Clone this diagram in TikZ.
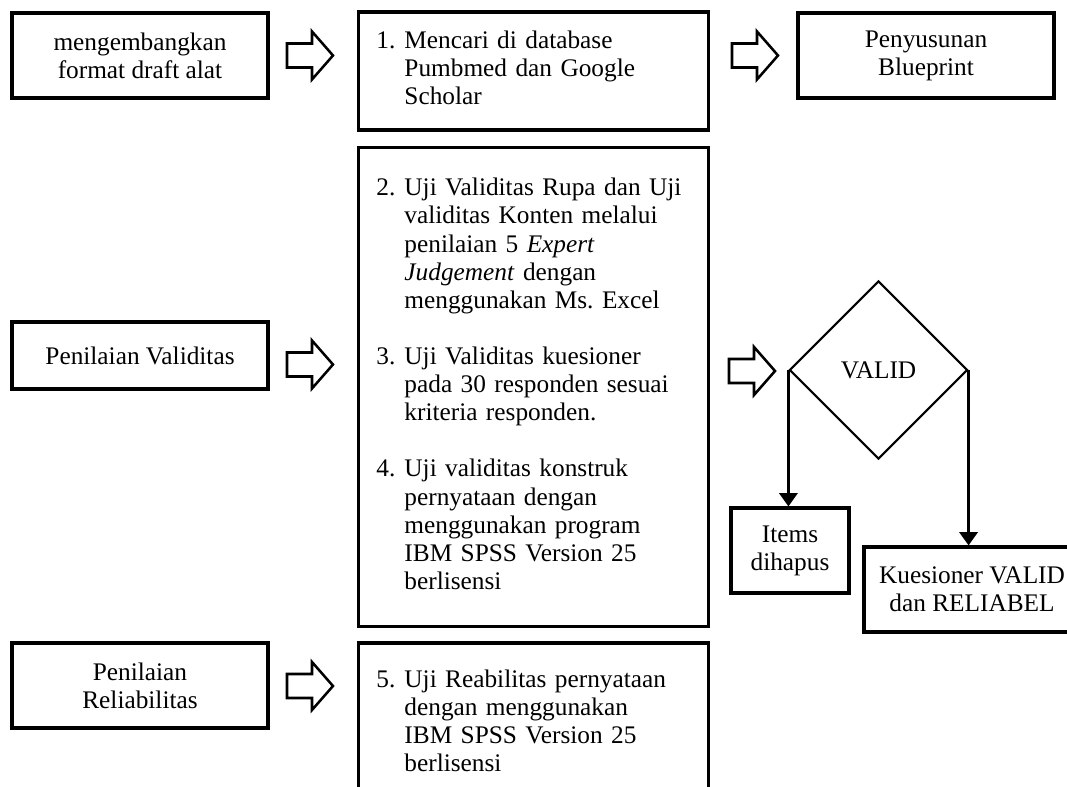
\documentclass[tikz,border=0pt]{standalone}
\usepackage{fontspec}
\setmainfont{Liberation Serif}
\usetikzlibrary{shapes.geometric,arrows.meta}

% hollow block arrow, given its left end and middle height
\newcommand{\hollowarrow}[2]{%
  \draw[hollow] (#1,#2) ++(0,-12) -- ++(25,0) -- ++(0,-12) -- ++(21,24)
    -- ++(-21,24) -- ++(0,-12) -- ++(-25,0) -- cycle;}

\begin{document}
\begin{tikzpicture}[x=0.025cm, y=-0.025cm,
  font=\fontsize{18}{20}\selectfont,
  box/.style={draw, line width=2.2pt, align=center, inner sep=0pt,
    minimum width=6.4cm, minimum height=2.125cm},
  listbox/.style={draw, line width=2.2pt, align=left, text width=7.85cm,
    inner xsep=0.45cm, inner ysep=0pt},
  hollow/.style={draw, line width=1.8pt, line join=miter},
  decision/.style={draw, diamond, aspect=1, line width=1.5pt, inner sep=0pt,
    minimum width=4.45cm, minimum height=4.45cm},
  flow/.style={line width=2pt, -{Triangle[length=0.33cm, width=0.45cm]}}]
\useasboundingbox (0,0) rectangle (1067,787);

% left column
\node[box] (draft) at (140,55.5) {mengembangkan\\format draft alat};
\node[box, minimum height=1.675cm] (validitas) at (140,355.5) {Penilaian Validitas};
\node[box] (reliabilitas) at (140,685.5) {Penilaian\\Reliabilitas};

% middle column
\node[listbox, minimum height=2.95cm] (cari) at (533.5,71) {%
  \begin{tabular}{@{}p{0.7cm}@{}l@{}}
  1. & Mencari di database\\
     & Pumbmed dan Google\\
     & Scholar
  \end{tabular}};
\node[listbox, minimum height=11.95cm] (uji) at (533.5,387) {%
  \begin{tabular}{@{}p{0.7cm}@{}l@{}}
  2. & Uji Validitas Rupa dan Uji\\
     & validitas Konten melalui\\
     & penilaian 5 \textit{Expert}\\
     & \textit{Judgement} dengan\\
     & menggunakan Ms.\ Excel\\[20pt]
  3. & Uji Validitas kuesioner\\
     & pada 30 responden sesuai\\
     & kriteria responden.\\[20pt]
  4. & Uji validitas konstruk\\
     & pernyataan dengan\\
     & menggunakan program\\
     & IBM SPSS Version 25\\
     & berlisensi
  \end{tabular}};
\node[listbox, minimum height=4.05cm] (reabilitas) at (533.5,724) {%
  \begin{tabular}{@{}p{0.7cm}@{}l@{}}
  5. & Uji Reabilitas pernyataan\\
     & dengan menggunakan\\
     & IBM SPSS Version 25\\
     & berlisensi
  \end{tabular}};

% right column
\node[box] (blueprint) at (926,55.5) {Penyusunan\\Blueprint};
\node[decision] (valid) at (878.5,370) {VALID};
\node[box, minimum width=2.95cm] (hapus) at (790,550.5) {Items\\dihapus};
\node[box, minimum width=5.4cm] (kuesioner) at (972,589.5) {Kuesioner VALID\\dan RELIABEL};

\hollowarrow{287}{55.5}
\hollowarrow{732}{55.5}
\hollowarrow{287}{364.5}
\hollowarrow{729}{371}
\hollowarrow{287}{686}

\draw[flow] (valid.west) -- (valid.west |- hapus.north);
\draw[flow] (valid.east) -- (valid.east |- kuesioner.north);
\end{tikzpicture}
\end{document}
